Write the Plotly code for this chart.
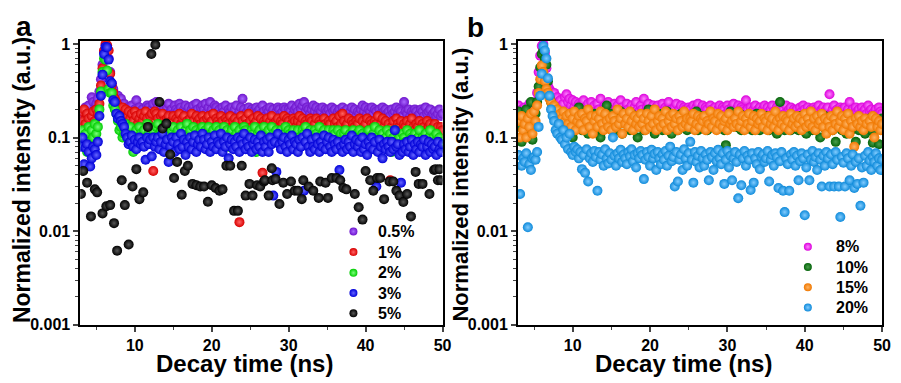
import plotly.graph_objects as go

# ---------------- data ----------------
TIME_NS = [round(3.0 + 0.2 * i, 1) for i in range(236)]  # 3.0 ... 50.0 ns time bins

P05 = [0.16, 0.19, 0.15, 0.21, 0.17, 0.22, 0.18, 0.27, 0.24, 0.2,
       0.23, 0.26, 0.31, 0.42, 0.6, 0.82, 0.97, 0.92, 0.7, 0.5,
       0.38, 0.33, 0.29, 0.27, 0.28, 0.24, 0.26, 0.22, 0.23, 0.2,
       0.21, 0.19, 0.2, 0.22, 0.18, 0.2, 0.25, 0.19, 0.21, 0.18,
       0.2, 0.17, 0.19, 0.22, 0.21, 0.18, 0.2, 0.23, 0.19, 0.24,
       0.21, 0.19, 0.22, 0.18, 0.2, 0.17, 0.21, 0.23, 0.19, 0.2,
       0.18, 0.22, 0.2, 0.19, 0.23, 0.21, 0.18, 0.2, 0.22, 0.19,
       0.21, 0.17, 0.2, 0.22, 0.19, 0.23, 0.2, 0.18, 0.21, 0.22,
       0.2, 0.23, 0.19, 0.21, 0.24, 0.2, 0.18, 0.22, 0.21, 0.19,
       0.2, 0.18, 0.21, 0.19, 0.22, 0.17, 0.2, 0.19, 0.21, 0.18,
       0.2, 0.22, 0.17, 0.19, 0.21, 0.26, 0.2, 0.18, 0.19, 0.21,
       0.18, 0.2, 0.19, 0.17, 0.21, 0.19, 0.2, 0.18, 0.22, 0.19,
       0.17, 0.2, 0.19, 0.21, 0.18, 0.2, 0.17, 0.19, 0.21, 0.2,
       0.18, 0.19, 0.21, 0.2, 0.17, 0.2, 0.19, 0.22, 0.18, 0.2,
       0.21, 0.19, 0.23, 0.2, 0.22, 0.24, 0.19, 0.21, 0.2, 0.18,
       0.2, 0.22, 0.19, 0.21, 0.18, 0.2, 0.19, 0.21, 0.17, 0.2,
       0.19, 0.2, 0.18, 0.21, 0.19, 0.2, 0.17, 0.19, 0.2, 0.18,
       0.21, 0.19, 0.17, 0.2, 0.18, 0.19, 0.21, 0.18, 0.2, 0.17,
       0.19, 0.18, 0.2, 0.22, 0.19, 0.21, 0.18, 0.2, 0.19, 0.21,
       0.18, 0.2, 0.19, 0.17, 0.2, 0.18, 0.21, 0.19, 0.2, 0.18,
       0.19, 0.17, 0.2, 0.18, 0.19, 0.21, 0.18, 0.2, 0.19, 0.17,
       0.24, 0.19, 0.18, 0.2, 0.17, 0.19, 0.18, 0.2, 0.19, 0.17,
       0.18, 0.2, 0.19, 0.17, 0.21, 0.18, 0.19, 0.2, 0.17, 0.18,
       0.19, 0.17, 0.18, 0.2, 0.17, 0.18]

P1 = [0.19, 0.15, 0.2, 0.14, 0.18, 0.16, 0.13, 0.17, 0.19, 0.15,
      0.2, 0.18, 0.23, 0.36, 0.55, 0.85, 1.0, 0.97, 0.85, 0.48,
      0.36, 0.3, 0.26, 0.24, 0.22, 0.2, 0.19, 0.21, 0.18, 0.2,
      0.17, 0.19, 0.16, 0.18, 0.15, 0.19, 0.17, 0.14, 0.16, 0.18,
      0.15, 0.17, 0.19, 0.16, 0.14, 0.17, 0.18, 0.044, 0.19, 0.18,
      0.16, 0.14, 0.17, 0.18, 0.15, 0.13, 0.16, 0.17, 0.14, 0.15,
      0.17, 0.13, 0.16, 0.15, 0.18, 0.14, 0.16, 0.17, 0.13, 0.15,
      0.14, 0.16, 0.18, 0.15, 0.13, 0.17, 0.15, 0.16, 0.14, 0.17,
      0.15, 0.13, 0.16, 0.17, 0.14, 0.15, 0.18, 0.13, 0.16, 0.15,
      0.14, 0.17, 0.15, 0.13, 0.16, 0.15, 0.14, 0.17, 0.13, 0.15,
      0.16, 0.14, 0.15, 0.0125, 0.17, 0.15, 0.13, 0.16, 0.14, 0.18,
      0.15, 0.13, 0.16, 0.14, 0.15, 0.17, 0.13, 0.16, 0.042, 0.15,
      0.14, 0.16, 0.13, 0.15, 0.17, 0.14, 0.12, 0.15, 0.16, 0.13,
      0.15, 0.14, 0.17, 0.13, 0.16, 0.15, 0.12, 0.14, 0.16, 0.15,
      0.13, 0.15, 0.17, 0.14, 0.16, 0.13, 0.15, 0.14, 0.12, 0.16,
      0.15, 0.13, 0.14, 0.16, 0.12, 0.15, 0.14, 0.13, 0.16, 0.14,
      0.13, 0.15, 0.14, 0.12, 0.16, 0.14, 0.15, 0.13, 0.17, 0.14,
      0.18, 0.15, 0.13, 0.14, 0.16, 0.12, 0.15, 0.14, 0.13, 0.15,
      0.14, 0.16, 0.12, 0.15, 0.13, 0.14, 0.16, 0.12, 0.15, 0.14,
      0.13, 0.15, 0.14, 0.17, 0.12, 0.14, 0.16, 0.13, 0.15, 0.12,
      0.14, 0.035, 0.13, 0.15, 0.12, 0.16, 0.14, 0.13, 0.15, 0.12,
      0.14, 0.13, 0.15, 0.12, 0.14, 0.16, 0.13, 0.12, 0.14, 0.13,
      0.15, 0.12, 0.14, 0.13, 0.12, 0.15, 0.13, 0.14, 0.12, 0.13,
      0.14, 0.12, 0.13, 0.11, 0.13, 0.12]

P2 = [0.1, 0.12, 0.08, 0.11, 0.07, 0.13, 0.09, 0.12, 0.1, 0.14,
      0.11, 0.13, 0.2, 0.31, 0.5, 0.7, 0.68, 0.52, 0.33, 0.3,
      0.3, 0.22, 0.2, 0.18, 0.15, 0.12, 0.13, 0.1, 0.11, 0.14,
      0.12, 0.1, 0.13, 0.09, 0.07, 0.11, 0.12, 0.1, 0.13, 0.11,
      0.09, 0.12, 0.1, 0.14, 0.11, 0.13, 0.09, 0.12, 0.1, 0.13,
      0.14, 0.11, 0.12, 0.09, 0.13, 0.1, 0.12, 0.11, 0.08, 0.12,
      0.13, 0.1, 0.11, 0.12, 0.09, 0.13, 0.11, 0.1, 0.12, 0.14,
      0.11, 0.12, 0.09, 0.13, 0.1, 0.12, 0.11, 0.08, 0.12, 0.13,
      0.1, 0.12, 0.11, 0.13, 0.09, 0.11, 0.12, 0.1, 0.13, 0.11,
      0.12, 0.09, 0.11, 0.13, 0.1, 0.12, 0.08, 0.11, 0.12, 0.1,
      0.13, 0.11, 0.09, 0.12, 0.1, 0.11, 0.13, 0.12, 0.09, 0.11,
      0.1, 0.12, 0.11, 0.13, 0.07, 0.11, 0.12, 0.1, 0.11, 0.13,
      0.11, 0.09, 0.12, 0.1, 0.13, 0.11, 0.1, 0.12, 0.09, 0.11,
      0.12, 0.1, 0.11, 0.13, 0.09, 0.12, 0.11, 0.1, 0.12, 0.08,
      0.11, 0.12, 0.1, 0.09, 0.12, 0.11, 0.13, 0.1, 0.11, 0.12,
      0.1, 0.09, 0.12, 0.11, 0.1, 0.13, 0.09, 0.11, 0.12, 0.1,
      0.11, 0.12, 0.09, 0.1, 0.12, 0.11, 0.09, 0.12, 0.1, 0.11,
      0.09, 0.11, 0.12, 0.1, 0.08, 0.11, 0.1, 0.12, 0.09, 0.11,
      0.1, 0.12, 0.09, 0.11, 0.1, 0.08, 0.11, 0.12, 0.1, 0.09,
      0.11, 0.13, 0.1, 0.09, 0.12, 0.1, 0.11, 0.08, 0.1, 0.12,
      0.09, 0.11, 0.07, 0.1, 0.12, 0.09, 0.11, 0.1, 0.08, 0.11,
      0.1, 0.09, 0.12, 0.08, 0.11, 0.1, 0.09, 0.11, 0.08, 0.1,
      0.12, 0.09, 0.1, 0.08, 0.11, 0.09, 0.1, 0.12, 0.08, 0.1,
      0.09, 0.11, 0.08, 0.1, 0.09, 0.08]

P3 = [0.08, 0.1, 0.052, 0.078, 0.085, 0.07, 0.049, 0.06, 0.08, 0.075,
      0.065, 0.09, 0.17, 0.28, 0.47, 0.78, 0.93, 0.92, 0.68, 0.4,
      0.38, 0.25, 0.24, 0.18, 0.16, 0.17, 0.15, 0.14, 0.13, 0.11,
      0.1, 0.085, 0.09, 0.105, 0.08, 0.095, 0.075, 0.09, 0.1, 0.085,
      0.09, 0.08, 0.058, 0.1, 0.085, 0.095, 0.063, 0.1, 0.08, 0.09,
      0.1, 0.075, 0.09, 0.11, 0.07, 0.085, 0.095, 0.055, 0.08, 0.1,
      0.09, 0.07, 0.1, 0.085, 0.075, 0.11, 0.08, 0.095, 0.065, 0.09,
      0.08, 0.1, 0.075, 0.09, 0.105, 0.07, 0.085, 0.095, 0.08, 0.11,
      0.095, 0.075, 0.085, 0.1, 0.07, 0.09, 0.08, 0.105, 0.075, 0.09,
      0.085, 0.11, 0.07, 0.09, 0.08, 0.1, 0.06, 0.085, 0.095, 0.075,
      0.09, 0.08, 0.1, 0.07, 0.095, 0.085, 0.11, 0.075, 0.09, 0.08,
      0.1, 0.07, 0.085, 0.095, 0.075, 0.09, 0.08, 0.105, 0.07, 0.09,
      0.08, 0.095, 0.07, 0.1, 0.085, 0.024, 0.09, 0.043, 0.11, 0.085,
      0.075, 0.09, 0.1, 0.08, 0.07, 0.095, 0.085, 0.105, 0.075, 0.09,
      0.085, 0.07, 0.095, 0.08, 0.1, 0.027, 0.09, 0.11, 0.08, 0.07,
      0.095, 0.08, 0.075, 0.1, 0.085, 0.07, 0.09, 0.08, 0.105, 0.075,
      0.09, 0.1, 0.08, 0.07, 0.095, 0.085, 0.075, 0.09, 0.045, 0.08,
      0.07, 0.085, 0.095, 0.075, 0.09, 0.08, 0.105, 0.07, 0.085, 0.095,
      0.08, 0.09, 0.07, 0.1, 0.075, 0.085, 0.065, 0.09, 0.08, 0.1,
      0.075, 0.09, 0.03, 0.07, 0.095, 0.08, 0.06, 0.085, 0.075, 0.09,
      0.08, 0.07, 0.09, 0.075, 0.12, 0.08, 0.085, 0.065, 0.033, 0.07,
      0.085, 0.075, 0.09, 0.07, 0.08, 0.095, 0.065, 0.085, 0.075, 0.09,
      0.07, 0.085, 0.08, 0.095, 0.065, 0.08, 0.09, 0.07, 0.085, 0.075,
      0.08, 0.065, 0.09, 0.075, 0.07, 0.085]

P5_T = [3.0, 3.3, 3.8, 4.3, 4.8, 5.1, 5.8, 6.3, 6.8, 7.3, 7.7, 8.3, 8.7, 9.2, 9.7,
        10.2, 10.6, 11.1, 11.7, 12.15, 12.67, 13.2, 13.6, 14.1, 14.6, 15.1, 15.5,
        16.1, 16.5, 16.9, 17.5, 18.0, 18.5, 19.0, 19.5, 20.0, 20.5, 21.0, 21.4,
        21.9, 22.4, 22.9, 23.4, 23.9, 24.4, 24.9, 25.3, 25.9, 26.3, 26.8, 26.9,
        27.4, 27.8, 27.9, 28.3, 28.8, 29.3, 29.8, 30.3, 30.8, 31.2, 31.7, 31.9,
        32.6, 33.2, 33.9, 34.1, 34.8, 35.1, 35.6, 36.2, 36.7, 37.1, 37.5, 38.6,
        39.1, 39.6, 40.0, 40.6, 41.0, 41.5, 41.9, 42.4, 43.1, 43.6, 44.0, 44.4,
        44.9, 45.4, 45.9, 46.5, 46.9, 47.4, 48.3, 48.9, 49.1, 49.4, 49.6, 49.8]
P5 = [0.025, 0.044, 0.033, 0.0144, 0.028, 0.026, 0.0155, 0.0185, 0.019, 0.0122,
      0.0062, 0.035, 0.019, 0.0072, 0.03, 0.046, 0.022, 0.026, 0.13, 0.78, 0.98,
      0.24, 0.125, 0.141, 0.066, 0.037, 0.055, 0.0245, 0.044, 0.05, 0.032, 0.031,
      0.03, 0.03, 0.0206, 0.031, 0.029, 0.027, 0.028, 0.05, 0.05, 0.0165, 0.0165,
      0.05, 0.024, 0.032, 0.024, 0.031, 0.03, 0.034, 0.035, 0.024, 0.047, 0.035,
      0.036, 0.0195, 0.033, 0.025, 0.034, 0.027, 0.027, 0.022, 0.035, 0.03, 0.027,
      0.0227, 0.034, 0.033, 0.0227, 0.037, 0.037, 0.035, 0.029, 0.028, 0.025,
      0.018, 0.0133, 0.044, 0.035, 0.027, 0.037, 0.037, 0.022, 0.034, 0.034,
      0.027, 0.024, 0.0205, 0.025, 0.0144, 0.043, 0.032, 0.032, 0.025, 0.045,
      0.046, 0.035, 0.046, 0.035]

P8 = [0.22, 0.18, 0.2, 0.16, 0.21, 0.19, 0.17, 0.23, 0.2, 0.18,
      0.21, 0.24, 0.3, 0.5, 0.75, 0.95, 1.0, 0.8, 0.55, 0.36,
      0.33, 0.31, 0.28, 0.3, 0.26, 0.27, 0.24, 0.25, 0.22, 0.23,
      0.27, 0.29, 0.24, 0.26, 0.22, 0.25, 0.21, 0.24, 0.2, 0.23,
      0.22, 0.19, 0.25, 0.21, 0.2, 0.23, 0.18, 0.24, 0.2, 0.22,
      0.19, 0.23, 0.2, 0.26, 0.18, 0.21, 0.22, 0.19, 0.24, 0.2,
      0.21, 0.18, 0.23, 0.2, 0.22, 0.19, 0.25, 0.21, 0.18, 0.2,
      0.23, 0.2, 0.19, 0.22, 0.18, 0.21, 0.24, 0.2, 0.19, 0.22,
      0.2, 0.26, 0.19, 0.21, 0.23, 0.18, 0.2, 0.22, 0.19, 0.21,
      0.22, 0.19, 0.2, 0.23, 0.18, 0.21, 0.2, 0.24, 0.19, 0.2,
      0.18, 0.21, 0.23, 0.19, 0.2, 0.22, 0.18, 0.21, 0.2, 0.19,
      0.21, 0.2, 0.18, 0.22, 0.19, 0.21, 0.23, 0.18, 0.2, 0.22,
      0.19, 0.21, 0.2, 0.18, 0.22, 0.2, 0.19, 0.21, 0.18, 0.2,
      0.22, 0.19, 0.21, 0.2, 0.18, 0.22, 0.2, 0.19, 0.21, 0.23,
      0.19, 0.2, 0.22, 0.18, 0.21, 0.2, 0.19, 0.25, 0.2, 0.18,
      0.21, 0.19, 0.2, 0.22, 0.18, 0.2, 0.21, 0.19, 0.2, 0.22,
      0.18, 0.21, 0.19, 0.2, 0.22, 0.19, 0.18, 0.21, 0.2, 0.19,
      0.21, 0.2, 0.18, 0.22, 0.19, 0.2, 0.21, 0.18, 0.2, 0.19,
      0.2, 0.18, 0.21, 0.19, 0.22, 0.2, 0.18, 0.21, 0.19, 0.2,
      0.18, 0.21, 0.2, 0.19, 0.22, 0.18, 0.2, 0.21, 0.19, 0.2,
      0.21, 0.29, 0.18, 0.2, 0.22, 0.19, 0.2, 0.18, 0.21, 0.2,
      0.19, 0.21, 0.18, 0.2, 0.24, 0.19, 0.2, 0.18, 0.21, 0.19,
      0.2, 0.18, 0.21, 0.19, 0.2, 0.18, 0.22, 0.19, 0.2, 0.18,
      0.19, 0.2, 0.18, 0.21, 0.19, 0.18]

P10 = [0.19, 0.13, 0.09, 0.16, 0.12, 0.2, 0.15, 0.11, 0.24, 0.095,
       0.14, 0.18, 0.24, 0.35, 0.56, 0.78, 0.85, 0.7, 0.6, 0.4,
       0.27, 0.24, 0.22, 0.2, 0.17, 0.19, 0.16, 0.14, 0.18, 0.15,
       0.13, 0.16, 0.12, 0.18, 0.14, 0.1, 0.15, 0.17, 0.13, 0.21,
       0.15, 0.12, 0.17, 0.14, 0.19, 0.11, 0.16, 0.13, 0.15, 0.18,
       0.12, 0.16, 0.14, 0.1, 0.17, 0.15, 0.13, 0.22, 0.14, 0.16,
       0.18, 0.13, 0.15, 0.12, 0.16, 0.14, 0.19, 0.11, 0.15, 0.17,
       0.14, 0.16, 0.12, 0.18, 0.13, 0.15, 0.17, 0.1, 0.16, 0.14,
       0.15, 0.12, 0.17, 0.14, 0.2, 0.13, 0.16, 0.15, 0.11, 0.17,
       0.13, 0.18, 0.15, 0.12, 0.16, 0.14, 0.19, 0.13, 0.15, 0.11,
       0.16, 0.14, 0.17, 0.12, 0.15, 0.18, 0.13, 0.16, 0.14, 0.12,
       0.15, 0.17, 0.13, 0.16, 0.14, 0.19, 0.12, 0.15, 0.17, 0.13,
       0.14, 0.16, 0.12, 0.15, 0.18, 0.13, 0.16, 0.14, 0.17, 0.15,
       0.13, 0.16, 0.14, 0.12, 0.083, 0.15, 0.13, 0.19, 0.17, 0.14,
       0.16, 0.13, 0.15, 0.18, 0.12, 0.14, 0.17, 0.13, 0.16, 0.15,
       0.14, 0.12, 0.16, 0.13, 0.18, 0.15, 0.12, 0.14, 0.17, 0.13,
       0.15, 0.17, 0.12, 0.14, 0.16, 0.13, 0.18, 0.11, 0.15, 0.24,
       0.14, 0.16, 0.12, 0.15, 0.13, 0.17, 0.12, 0.14, 0.16, 0.13,
       0.15, 0.12, 0.17, 0.13, 0.14, 0.16, 0.11, 0.15, 0.13, 0.17,
       0.12, 0.15, 0.13, 0.16, 0.14, 0.1, 0.15, 0.13, 0.17, 0.12,
       0.14, 0.13, 0.16, 0.12, 0.15, 0.09, 0.14, 0.13, 0.17, 0.12,
       0.15, 0.13, 0.11, 0.16, 0.14, 0.12, 0.15, 0.13, 0.09, 0.14,
       0.12, 0.16, 0.13, 0.15, 0.11, 0.14, 0.13, 0.16, 0.12, 0.088,
       0.14, 0.12, 0.15, 0.085, 0.13, 0.16]

P15 = [0.15, 0.1, 0.17, 0.12, 0.14, 0.1, 0.16, 0.13, 0.18, 0.11,
       0.19, 0.15, 0.22, 0.3, 0.42, 0.59, 0.5, 0.4, 0.33, 0.3,
       0.26, 0.24, 0.21, 0.22, 0.19, 0.2, 0.17, 0.18, 0.16, 0.19,
       0.15, 0.17, 0.14, 0.18, 0.13, 0.16, 0.19, 0.12, 0.15, 0.17,
       0.14, 0.18, 0.12, 0.16, 0.15, 0.2, 0.13, 0.17, 0.11, 0.15,
       0.17, 0.13, 0.16, 0.19, 0.14, 0.12, 0.18, 0.15, 0.13, 0.16,
       0.12, 0.17, 0.15, 0.13, 0.2, 0.14, 0.16, 0.11, 0.18, 0.14,
       0.16, 0.13, 0.19, 0.15, 0.12, 0.17, 0.14, 0.16, 0.13, 0.18,
       0.14, 0.16, 0.12, 0.18, 0.15, 0.13, 0.17, 0.14, 0.2, 0.12,
       0.15, 0.17, 0.13, 0.16, 0.14, 0.19, 0.12, 0.15, 0.17, 0.13,
       0.18, 0.14, 0.16, 0.12, 0.17, 0.15, 0.13, 0.19, 0.14, 0.16,
       0.13, 0.16, 0.15, 0.18, 0.12, 0.14, 0.17, 0.13, 0.16, 0.15,
       0.17, 0.12, 0.15, 0.14, 0.19, 0.13, 0.16, 0.15, 0.12, 0.18,
       0.14, 0.17, 0.13, 0.15, 0.16, 0.12, 0.18, 0.14, 0.15, 0.13,
       0.16, 0.14, 0.19, 0.13, 0.15, 0.17, 0.12, 0.16, 0.14, 0.18,
       0.13, 0.15, 0.17, 0.12, 0.16, 0.14, 0.15, 0.18, 0.13, 0.16,
       0.15, 0.12, 0.17, 0.14, 0.16, 0.13, 0.19, 0.15, 0.12, 0.16,
       0.14, 0.17, 0.13, 0.16, 0.15, 0.12, 0.18, 0.14, 0.16, 0.13,
       0.17, 0.14, 0.16, 0.12, 0.15, 0.18, 0.13, 0.16, 0.14, 0.19,
       0.13, 0.16, 0.12, 0.17, 0.14, 0.15, 0.18, 0.13, 0.16, 0.11,
       0.15, 0.13, 0.17, 0.12, 0.16, 0.14, 0.19, 0.13, 0.15, 0.17,
       0.12, 0.16, 0.14, 0.18, 0.11, 0.15, 0.13, 0.08, 0.16, 0.14,
       0.17, 0.13, 0.15, 0.12, 0.16, 0.14, 0.065, 0.15, 0.13, 0.17,
       0.1, 0.16, 0.13, 0.15, 0.12, 0.14]

P20 = [0.065, 0.025, 0.05, 0.06, 0.055, 0.068, 0.011, 0.052, 0.045, 0.06,
       0.062, 0.058, 0.07, 0.13, 0.28, 0.48, 0.95, 0.85, 0.7, 0.43,
       0.28, 0.2, 0.17, 0.15, 0.12, 0.11, 0.14, 0.1, 0.095, 0.12,
       0.085, 0.1, 0.075, 0.11, 0.07, 0.065, 0.08, 0.07, 0.075, 0.06,
       0.07, 0.046, 0.065, 0.042, 0.075, 0.034, 0.06, 0.068, 0.055, 0.072,
       0.062, 0.027, 0.07, 0.058, 0.066, 0.05, 0.075, 0.06, 0.053, 0.068,
       0.058, 0.1, 0.064, 0.05, 0.068, 0.06, 0.074, 0.055, 0.066, 0.06,
       0.052, 0.07, 0.063, 0.075, 0.056, 0.065, 0.048, 0.068, 0.06, 0.072,
       0.065, 0.036, 0.058, 0.07, 0.062, 0.05, 0.074, 0.06, 0.067, 0.045,
       0.07, 0.06, 0.052, 0.066, 0.058, 0.072, 0.05, 0.064, 0.08, 0.056,
       0.062, 0.03, 0.07, 0.034, 0.058, 0.066, 0.045, 0.075, 0.06, 0.05,
       0.068, 0.09, 0.058, 0.033, 0.07, 0.055, 0.064, 0.048, 0.072, 0.06,
       0.05, 0.066, 0.058, 0.035, 0.07, 0.062, 0.045, 0.068, 0.056, 0.074,
       0.06, 0.052, 0.068, 0.032, 0.058, 0.072, 0.048, 0.064, 0.035, 0.06,
       0.07, 0.055, 0.0225, 0.066, 0.031, 0.06, 0.072, 0.05, 0.064, 0.058,
       0.0275, 0.068, 0.033, 0.06, 0.052, 0.07, 0.046, 0.062, 0.066, 0.055,
       0.06, 0.072, 0.034, 0.058, 0.065, 0.05, 0.068, 0.062, 0.029, 0.056,
       0.07, 0.027, 0.016, 0.06, 0.052, 0.027, 0.066, 0.058, 0.07, 0.05,
       0.064, 0.035, 0.056, 0.068, 0.06, 0.0148, 0.048, 0.066, 0.035, 0.058,
       0.072, 0.055, 0.062, 0.045, 0.068, 0.058, 0.03, 0.064, 0.05, 0.07,
       0.06, 0.03, 0.066, 0.052, 0.03, 0.07, 0.058, 0.03, 0.0142, 0.062,
       0.054, 0.03, 0.068, 0.06, 0.035, 0.05, 0.066, 0.029, 0.055, 0.032,
       0.06, 0.0187, 0.048, 0.033, 0.064, 0.05, 0.07, 0.057, 0.045, 0.062,
       0.055, 0.068, 0.05, 0.06, 0.045, 0.058]

LABELS_A = ["0.5%", "1%", "2%", "3%", "5%"]
LABELS_B = ["8%", "10%", "15%", "20%"]
Y_TICKS = [0.001, 0.01, 0.1, 1]
Y_TICK_TEXT = ["0.001", "0.01", "0.1", "1"]
X_TICKS = [10, 20, 30, 40, 50]

for s in (P05, P1, P2, P3, P8, P10, P15, P20):
    assert len(s) == len(TIME_NS), len(s)
assert len(P5_T) == len(P5)

# ---------------- style / layout ----------------
W, H = 901, 383
FONT = "Liberation Sans, Arial, sans-serif"
# (edge colour, centre highlight colour)
COL_A = [("#6E14CC", "#A868FF"), ("#D80000", "#FF6464"), ("#00CC00", "#7CFF7C"),
         ("#0000D8", "#6464FF"), ("#000000", "#585858")]
COL_B = [("#DC00DC", "#FF84FF"), ("#04640A", "#4C9E4C"), ("#F07800", "#FFB464"),
         ("#0E8ADA", "#82CCFF")]

# legend placement in page pixels (layout, not data)
LEG_A_MARK_X, LEG_A_TEXT_X = 357, 380
LEG_A_ROWS = [235, 256.5, 278, 299, 320]
LEG_B_MARK_X, LEG_B_TEXT_X = 816, 842
LEG_B_ROWS = [251, 272, 293, 314]

fig = go.Figure()

series_a = [(TIME_NS, P05), (TIME_NS, P1), (TIME_NS, P2), (TIME_NS, P3), (P5_T, P5)]
series_b = [(TIME_NS, P8), (TIME_NS, P10), (TIME_NS, P15), (TIME_NS, P20)]

annotations = []


def add_panel(series, labels, cols, xa, ya, mx, tx, rows):
    for (t, v), (c, hc) in zip(series, cols):
        fig.add_trace(go.Scatter(
            x=t, y=v, mode="markers", xaxis=xa, yaxis=ya, showlegend=False,
            hoverinfo="skip",
            marker=dict(size=10, color=c, line=dict(width=0),
                        gradient=dict(type="radial", color=hc))))
    # legend symbols on an invisible page-pixel overlay axis
    for lab, (c, hc), ry in zip(labels, cols, rows):
        fig.add_trace(go.Scatter(
            x=[mx], y=[ry], mode="markers", xaxis="x3", yaxis="y3",
            showlegend=False, hoverinfo="skip", cliponaxis=False,
            marker=dict(size=8, color=c, line=dict(width=0),
                        gradient=dict(type="radial", color=hc))))
        annotations.append(dict(
            text=lab, x=tx / W, y=1 - ry / H, xref="paper", yref="paper",
            xanchor="left", yanchor="middle", showarrow=False,
            font=dict(family=FONT, size=16, color="black", weight="bold")))


add_panel(series_a, LABELS_A, COL_A, "x", "y", LEG_A_MARK_X, LEG_A_TEXT_X, LEG_A_ROWS)
add_panel(series_b, LABELS_B, COL_B, "x2", "y2", LEG_B_MARK_X, LEG_B_TEXT_X, LEG_B_ROWS)

dom_y = [1 - 332 / H, 1 - 37 / H]
minor_y = [m * 10 ** e for e in (-3, -2, -1) for m in range(2, 10)]

xcommon = dict(range=[2.9, 50], tickvals=X_TICKS, ticks="outside", ticklen=5,
               tickwidth=1.5, showline=True, linecolor="black", linewidth=1.5,
               mirror=True, showgrid=False, zeroline=False,
               tickfont=dict(family=FONT, size=16, color="black", weight="bold"),
               minor=dict(ticks="outside", ticklen=3, tickwidth=1,
                          tickvals=[5, 15, 25, 35, 45], showgrid=False))
ycommon = dict(type="log", range=[-3, 0.035], tickvals=Y_TICKS, ticktext=Y_TICK_TEXT,
               ticks="outside", ticklen=5, tickwidth=1.5, showline=True,
               linecolor="black", linewidth=1.5, mirror=True, showgrid=False,
               zeroline=False,
               tickfont=dict(family=FONT, size=16, color="black", weight="bold"),
               minor=dict(ticks="outside", ticklen=3, tickwidth=1,
                          tickvals=minor_y, showgrid=False))


def txt(text, x, y, size, angle=0):
    return dict(text=text, x=x / W, y=1 - y / H, xref="paper", yref="paper",
                xanchor="center", yanchor="middle", showarrow=False, textangle=angle,
                font=dict(family=FONT, size=size, color="black", weight="bold"))


annotations += [
    txt("a", 24, 22, 28),
    txt("b", 480, 23, 28),
    txt("Decay time (ns)", 247, 372, 24),
    txt("Decay time (ns)", 690, 372, 24),
    txt("Normalized intensity (a.u.)", 23, 182, 23, -90),
    txt("Normalized intensity (a.u.)", 465, 186, 22, -90),
]

fig.update_layout(
    width=W, height=H, margin=dict(l=0, r=0, t=0, b=0),
    paper_bgcolor="white", plot_bgcolor="rgba(0,0,0,0)", showlegend=False,
    font=dict(family=FONT, color="black"),
    xaxis=dict(domain=[81 / W, 447 / W], anchor="y", **xcommon),
    yaxis=dict(domain=dom_y, anchor="x", **ycommon),
    xaxis2=dict(domain=[523 / W, 891 / W], anchor="y2", **xcommon),
    yaxis2=dict(domain=dom_y, anchor="x2", **ycommon),
    xaxis3=dict(domain=[0, 1], range=[0, W], visible=False, fixedrange=True,
                anchor="y3", showgrid=False, zeroline=False),
    yaxis3=dict(domain=[0, 1], range=[H, 0], visible=False, fixedrange=True,
                anchor="x3", showgrid=False, zeroline=False),
    annotations=annotations,
)

fig.write_html("out.html")
